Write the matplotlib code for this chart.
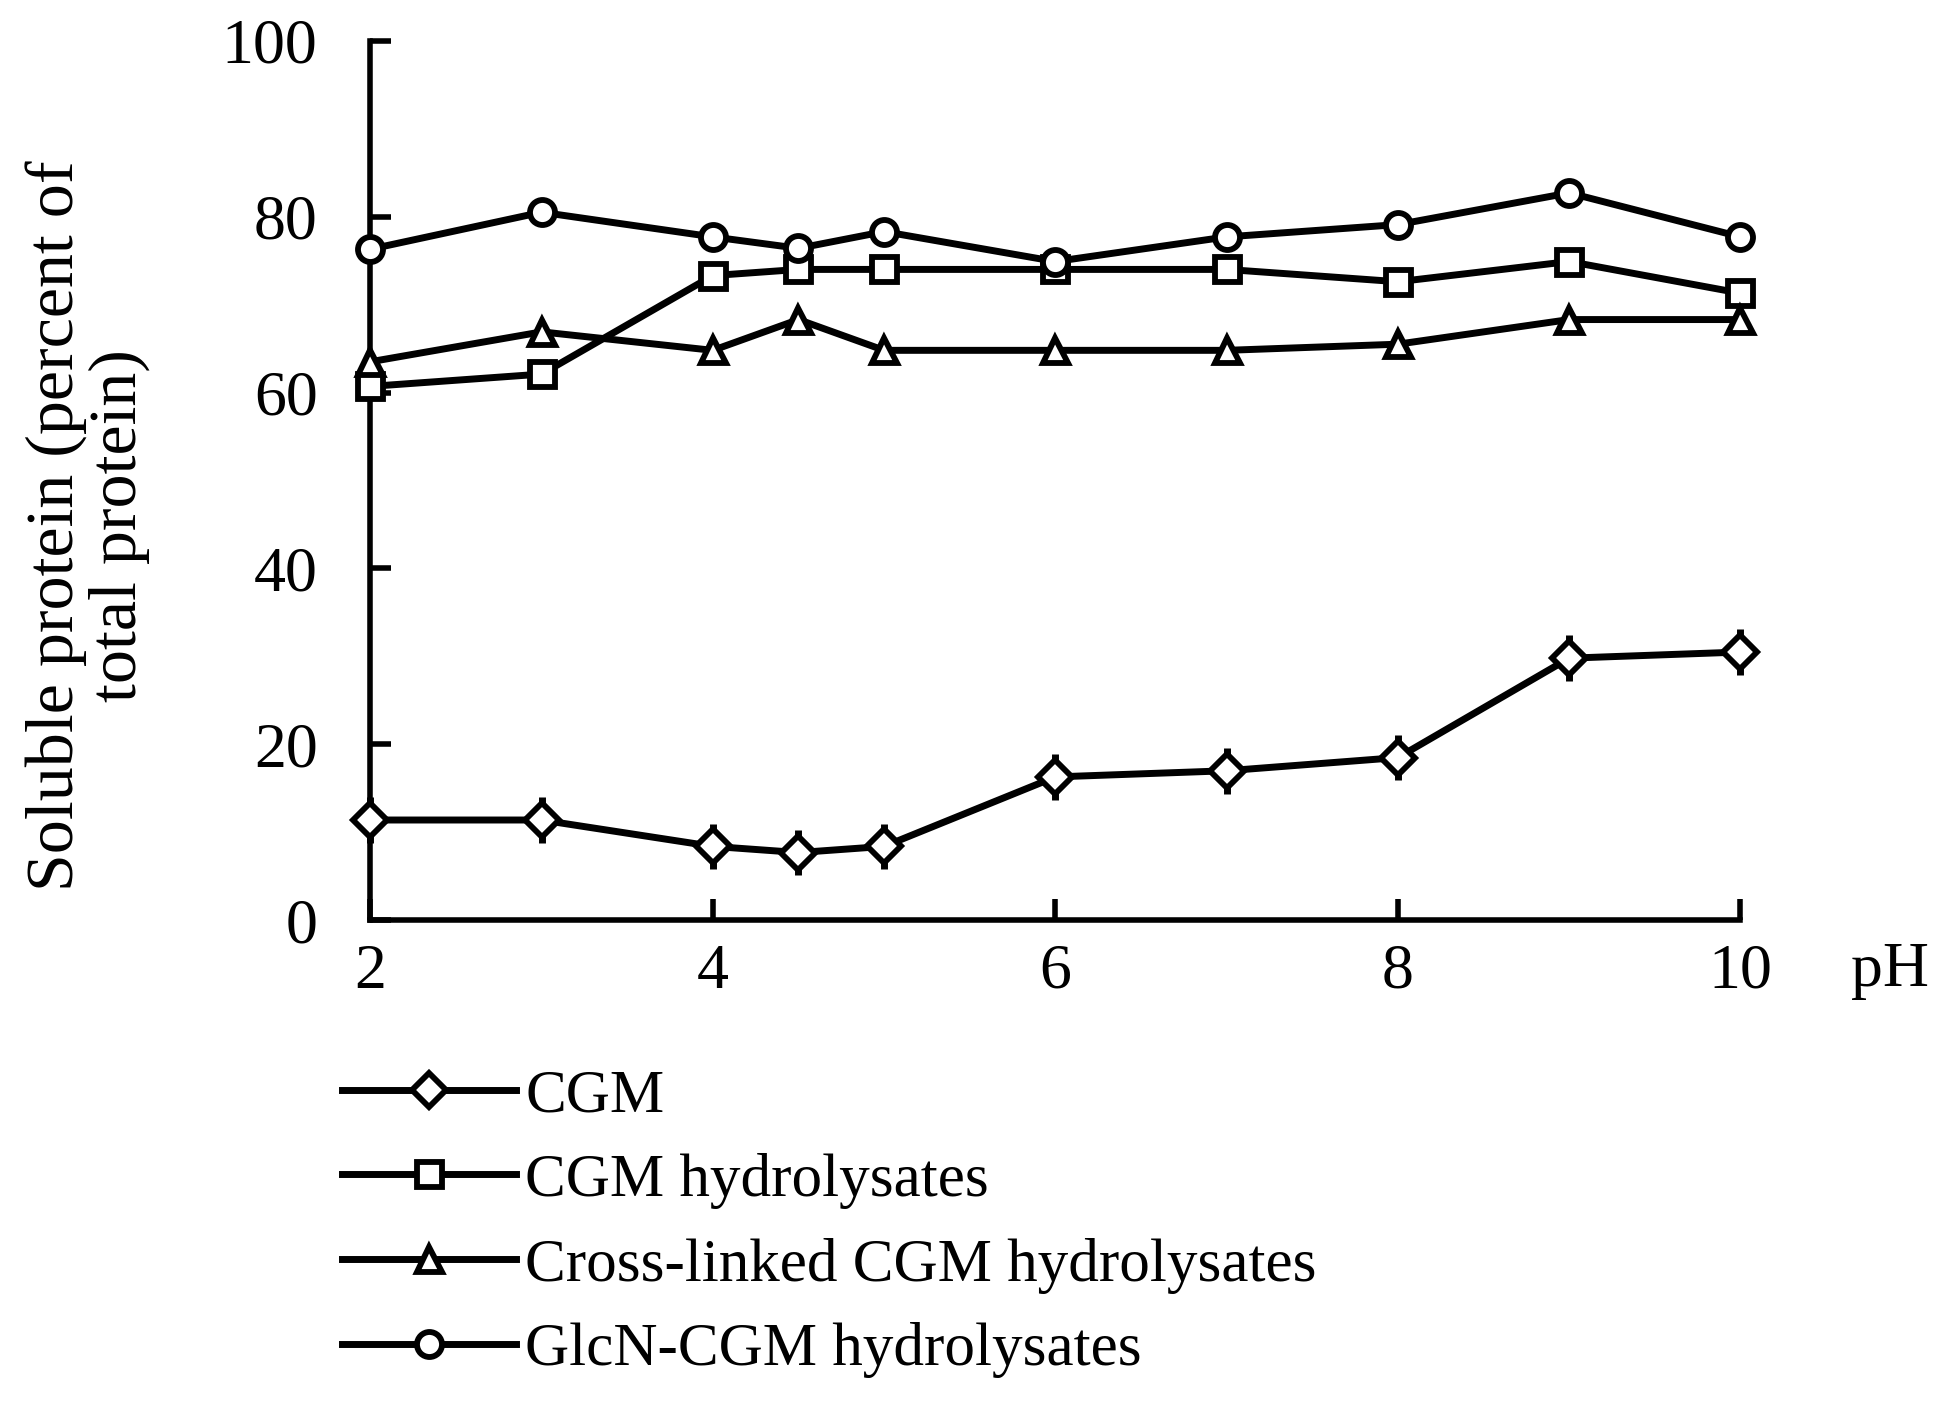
import numpy as np
import matplotlib
matplotlib.use("Agg")
import matplotlib.pyplot as plt
from matplotlib.lines import Line2D

plt.rcParams['font.family'] = ['Liberation Serif', 'DejaVu Serif']

# pH values and soluble protein (% of total protein)
ph = [2, 3, 4, 4.5, 5, 6, 7, 8, 9, 10]
cgm = [11.4, 11.4, 8.4, 7.7, 8.4, 16.3, 17.0, 18.5, 29.8, 30.5]
cgm_err = [2.6, 2.6, 2.6, 2.6, 2.6, 2.6, 2.6, 2.6, 2.6, 2.6]
cgm_hyd = [60.7, 62.1, 73.3, 74.0, 74.0, 74.0, 74.0, 72.6, 74.9, 71.3]
cross_hyd = [63.5, 66.9, 64.8, 68.3, 64.8, 64.8, 64.8, 65.5, 68.3, 68.3]
glcn_hyd = [76.3, 80.5, 77.7, 76.4, 78.3, 74.9, 77.7, 79.1, 82.7, 77.7]

labels = ["CGM", "CGM hydrolysates", "Cross-linked CGM hydrolysates",
          "GlcN-CGM hydrolysates"]
markers = ["D", "s", "^", "o"]
sizes = [17, 18, 18, 18]

fig = plt.figure(figsize=(19.49, 14.05), dpi=100)
ax = fig.add_axes([0.190, 0.345, 0.703, 0.626])

lw = 5
common = dict(color="black", lw=lw, mfc="white", mec="black", mew=4.2,
              clip_on=False, zorder=3)

ax.errorbar(ph, cgm, yerr=cgm_err, marker="D", ms=sizes[0], ecolor="black",
            elinewidth=5, capsize=0, **common)
ax.plot(ph, cgm_hyd, marker="s", ms=sizes[1], **common)
ax.plot(ph, cross_hyd, marker="^", ms=sizes[2], **common)
ax.plot(ph, glcn_hyd, marker="o", ms=sizes[3], **common)

ax.set_xlim(2, 10)
ax.set_ylim(0, 100)
ax.set_xticks([2, 4, 6, 8, 10])
ax.set_yticks([0, 20, 40, 60, 80, 100])
for s in ["top", "right"]:
    ax.spines[s].set_visible(False)
for s in ["left", "bottom"]:
    ax.spines[s].set_linewidth(4)
ax.tick_params(direction="in", length=15, width=4, labelsize=46)
ax.tick_params(axis="y", pad=38)
ax.tick_params(axis="x", pad=17)

ax.text(1.109, -0.058, "pH", transform=ax.transAxes, fontsize=46,
        ha="center", va="center")

fig.text(0.045, 0.626, "Soluble protein (percent of\ntotal protein)",
         rotation=90, fontsize=49, ha="center", va="center",
         linespacing=1.0)

handles = [Line2D([], [], color="black", lw=lw, marker=m, ms=sz,
                  mfc="white", mec="black", mew=4.2)
           for m, sz in zip(markers, sizes)]
fig.legend(handles, labels, loc="upper left", bbox_to_anchor=(0.163, 0.257),
           frameon=False, fontsize=44, handlelength=2.85, handletextpad=0.15,
           labelspacing=0.47, borderaxespad=0)

fig.savefig("out.png", dpi=100)
